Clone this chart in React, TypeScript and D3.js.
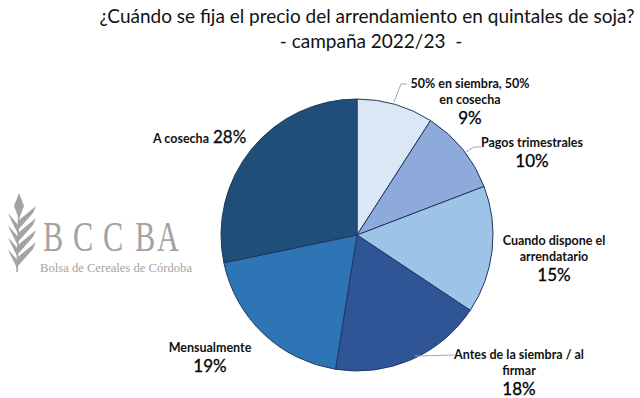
import React from 'react';
import * as d3 from 'd3';

// datos de la encuesta (porcentajes, sentido horario desde las 12)
const categorias = [
  '50% en siembra, 50% en cosecha',
  'Pagos trimestrales',
  'Cuando dispone el arrendatario',
  'Antes de la siembra / al firmar',
  'Mensualmente',
  'A cosecha',
];
const valores = [9, 10, 15, 18, 19, 28];
const colores = ['#dce7f5', '#8eaadb', '#9dc3e6', '#2f5597', '#2e75b6', '#1f4e79'];

const titulo1 = '¿Cuándo se fija el precio del arrendamiento en quintales de soja?';
const titulo2 = '- campaña 2022/23\u00a0\u00a0-';

// layout de las etiquetas (líneas de texto y posición)
const etiquetas = [
  { lineas: ['50% en siembra, 50%', 'en cosecha'], x: 470, y: 88, leader: [[407, 84], [401, 84], [394, 102]] },
  { lineas: ['Pagos trimestrales'], x: 532, y: 147, leader: [[481, 147], [474, 147], [466, 152]] },
  { lineas: ['Cuando dispone el', 'arrendatario'], x: 554, y: 245, leader: null },
  { lineas: ['Antes de la siembra / al', 'firmar'], x: 519, y: 359, leader: [[454, 355], [415, 356]] },
  { lineas: ['Mensualmente'], x: 210, y: 352, leader: null },
];

const W = 640;
const H = 398;
const cx = 357;
const cy = 235;
const r = 136;

const Logo: React.FC = () => {
  const gris = '#a3a3a3';
  const serif = "'Liberation Serif', 'DejaVu Serif', serif";
  // hojas de la espiga: [y en el tallo, lado]
  const hojas: [number, number][] = [
    [262, -1], [250, -1], [238, -1], [226, -1],
    [258, 1], [246, 1], [234, 1], [222, 1],
  ];
  const letras: [string, number][] = [['B', 43], ['C', 73], ['C', 103], ['B', 135], ['A', 157]];
  return (
    <g>
      <path d="M17,272 L19,205" stroke={gris} strokeWidth={1.5} />
      <path d="M19,193 L24,206 L19,219 L14,206 Z" fill={gris} />
      {hojas.map(([y, s], i) => {
        const tx = s < 0 ? 8 : 36;
        const ty = y - (s < 0 ? 13 : 16);
        return (
          <path
            key={i}
            d={`M18,${y - 1} L${tx},${ty} L${tx - s * 3},${ty + 7} L18,${y + 8} Z`}
            fill={gris}
          />
        );
      })}
      {letras.map(([l, x], i) => (
        <text
          key={i}
          x={0}
          y={0}
          transform={`translate(${x},251) scale(0.72,1)`}
          fontFamily={serif}
          fontSize={42}
          fill={gris}
        >
          {l}
        </text>
      ))}
      <text
        x={40}
        y={272}
        fontFamily={serif}
        fontSize={13.5}
        fill={gris}
        textLength={152}
        lengthAdjust="spacingAndGlyphs"
      >
        Bolsa de Cereales de Córdoba
      </text>
    </g>
  );
};

export default function App() {
  const pie = d3
    .pie<number>()
    .sort(null)
    .value((d) => d)
    .startAngle(0)
    .endAngle(2 * Math.PI);
  const arcs = pie(valores);
  const arc = d3.arc<d3.PieArcDatum<number>>().innerRadius(0).outerRadius(r);
  const fmt = (v: number) => `${v}%`;
  const font = "Lato, 'Open Sans', sans-serif";

  return (
    <svg
      width={W}
      height={H}
      style={{ position: 'absolute', left: 0, top: 0, background: '#fff' }}
      fontFamily={font}
    >
      <rect width={W} height={H} fill="#fff" />
      <text x={367} y={23} textAnchor="middle" fontSize={19} fill="#111">
        {titulo1}
      </text>
      <text x={371} y={48} textAnchor="middle" fontSize={19} fill="#111">
        {titulo2}
      </text>

      <Logo />

      <g transform={`translate(${cx},${cy})`}>
        {arcs.map((a, i) => (
          <path
            key={categorias[i]}
            d={arc(a) || ''}
            fill={colores[i]}
            stroke="#1f3864"
            strokeWidth={1}
          />
        ))}
      </g>

      {etiquetas.map((e, i) => (
        <g key={categorias[i]}>
          {e.leader && (
            <polyline
              points={e.leader.map((p) => p.join(',')).join(' ')}
              fill="none"
              stroke="#a6a6a6"
              strokeWidth={1}
            />
          )}
          {e.lineas.map((l, j) => (
            <text
              key={j}
              x={e.x}
              y={e.y + j * 16}
              textAnchor="middle"
              fontSize={12.5}
              fontWeight="bold"
              fill="#111"
            >
              {l}
            </text>
          ))}
          <text
            x={e.x}
            y={e.y + e.lineas.length * 16 + 4}
            textAnchor="middle"
            fontSize={17}
            fill="#000"
            stroke="#000"
            strokeWidth={0.3}
          >
            {fmt(valores[i])}
          </text>
        </g>
      ))}

      <text x={153} y={143} fontSize={12.5} fontWeight="bold" fill="#111">
        {categorias[5]}
        <tspan dx={4} fontSize={17} fontWeight="normal" stroke="#000" strokeWidth={0.3}>
          {fmt(valores[5])}
        </tspan>
      </text>
    </svg>
  );
}
